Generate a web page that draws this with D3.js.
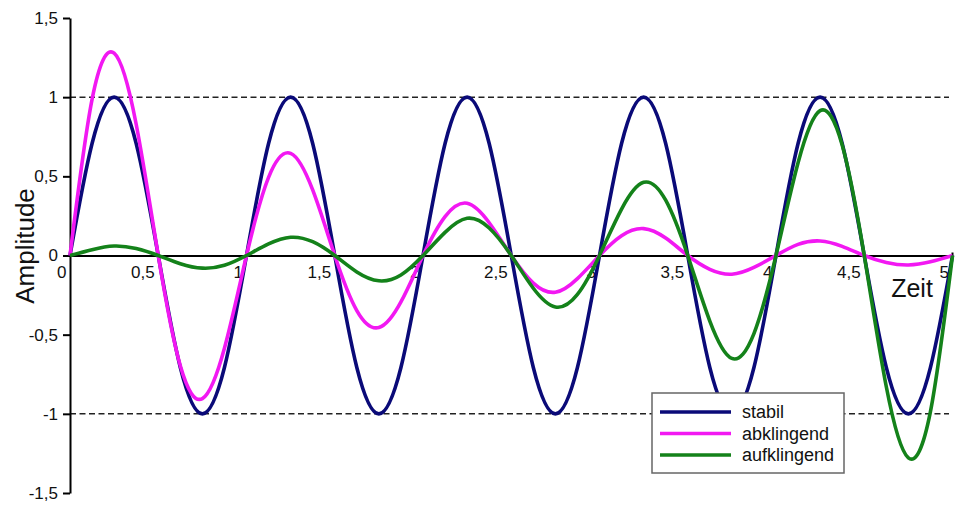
<!DOCTYPE html>
<html>
<head>
<meta charset="utf-8">
<script src="https://cdn.jsdelivr.net/npm/d3@7"></script>
<style>
  html, body { margin: 0; padding: 0; background: #fff; }
  svg { display: block; font-family: "Liberation Sans", Arial, sans-serif; }
</style>
</head>
<body>
<svg id="chart" width="960" height="512"></svg>
<script>
// Time samples (every 1/8 unit)
const zeit = [0,0.125,0.25,0.375,0.5,0.625,0.75,0.875,
  1,1.125,1.25,1.375,1.5,1.625,1.75,1.875,
  2,2.125,2.25,2.375,2.5,2.625,2.75,2.875,
  3,3.125,3.25,3.375,3.5,3.625,3.75,3.875,
  4,4.125,4.25,4.375,4.5,4.625,4.75,4.875,5];

const stabil = [0,0.707,1,0.707,0,-0.707,-1,-0.707,
  0,0.707,1,0.707,0,-0.707,-1,-0.707,
  0,0.707,1,0.707,0,-0.707,-1,-0.707,
  0,0.707,1,0.707,0,-0.707,-1,-0.707,
  0,0.707,1,0.707,0,-0.707,-1,-0.707,0];

const abklingend = [0,0.986,1.278,0.829,0,-0.697,-0.904,-0.586,
  0,0.493,0.645,0.414,0,-0.348,-0.455,-0.293,
  0,0.246,0.330,0.207,0,-0.174,-0.232,-0.146,
  0,0.125,0.170,0.110,0,-0.087,-0.118,-0.075,
  0,0.070,0.092,0.058,0,-0.044,-0.060,-0.040,0];

const aufklingend = [0,0.037,0.060,0.044,0,-0.052,-0.080,-0.062,
  0,0.073,0.115,0.087,0,-0.104,-0.160,-0.123,
  0,0.146,0.235,0.174,0,-0.207,-0.325,-0.246,
  0,0.293,0.462,0.349,0,-0.414,-0.650,-0.493,
  0,0.586,0.915,0.698,0,-0.829,-1.278,-0.986,0];

const seriesNames = ["stabil","abklingend","aufklingend"];
const seriesColors = ["#0a0a78","#f218f2","#14821a"];

const xTicks = [0,0.5,1,1.5,2,2.5,3,3.5,4,4.5,5];
const xTickLabels = ["0","0,5","1","1,5","2","2,5","3","3,5","4","4,5","5"];
const yTicks = [-1.5,-1,-0.5,0,0.5,1,1.5];
const yTickLabels = ["-1,5","-1","-0,5","0","0,5","1","1,5"];
const refLines = [1,-1];

const svg = d3.select("#chart");
const x = d3.scaleLinear().domain([0,5]).range([70,952.5]);
const y = d3.scaleLinear().domain([-1.5,1.5]).range([493,18]);

// dashed reference lines
svg.selectAll("line.ref").data(refLines).join("line")
  .attr("class","ref")
  .attr("x1",x(0)).attr("x2",949)
  .attr("y1",d=>y(d)).attr("y2",d=>y(d))
  .attr("stroke","#222").attr("stroke-width",1.5)
  .attr("stroke-dasharray","6,3.5");

// y axis
const yAxis = d3.axisLeft(y).tickValues(yTicks)
  .tickFormat((d,i)=>yTickLabels[i]).tickSize(7).tickPadding(5).tickSizeOuter(0);
const gy = svg.append("g").attr("transform",`translate(${x(0)},0)`).call(yAxis);
gy.select(".domain").attr("stroke","#000").attr("stroke-width",2);
gy.selectAll(".tick line").attr("stroke","#000").attr("stroke-width",2);
gy.selectAll(".tick text").attr("font-size",17).attr("fill","#111")
  .attr("font-family","Liberation Sans, Arial, sans-serif");

// x axis at y=0
const xAxis = d3.axisBottom(x).tickValues(xTicks)
  .tickFormat((d,i)=>xTickLabels[i]).tickSize(0).tickSizeOuter(0);
const gx = svg.append("g").attr("transform",`translate(0,${y(0)})`).call(xAxis);
gx.select(".domain").attr("stroke","#000").attr("stroke-width",2.2);
gx.selectAll(".tick text").attr("font-size",17).attr("fill","#111")
  .attr("font-family","Liberation Sans, Arial, sans-serif")
  .attr("text-anchor","end").attr("dx",-4).attr("dy",0).attr("y",22);
// small end tick at x=5
gx.append("line").attr("x1",x(5)).attr("x2",x(5)).attr("y1",-3).attr("y2",3)
  .attr("stroke","#000").attr("stroke-width",2);

// axis titles
svg.append("text").attr("transform",`translate(34,246) rotate(-90)`)
  .attr("text-anchor","middle").attr("font-size",26).attr("fill","#111")
  .text("Amplitude");
svg.append("text").attr("x",912).attr("y",297)
  .attr("text-anchor","middle").attr("font-size",25).attr("fill","#111")
  .text("Zeit");

// curves
const allSeries = [stabil, abklingend, aufklingend];
const line = d3.line().x((d,i)=>x(zeit[i])).y(d=>y(d)).curve(d3.curveNatural);
svg.selectAll("path.series").data(allSeries).join("path")
  .attr("class","series")
  .attr("d",d=>line(d))
  .attr("fill","none")
  .attr("stroke",(d,i)=>seriesColors[i])
  .attr("stroke-width",3.6)
  .attr("stroke-linejoin","round");

// legend
const lg = svg.append("g").attr("transform","translate(652,393)");
lg.append("rect").attr("width",192).attr("height",80)
  .attr("fill","#fff").attr("stroke","#666").attr("stroke-width",1.5);
const items = lg.selectAll("g.item").data(seriesNames).join("g")
  .attr("class","item")
  .attr("transform",(d,i)=>`translate(0,${19 + i*21.5})`);
items.append("line").attr("x1",8).attr("x2",79).attr("y1",0).attr("y2",0)
  .attr("stroke",(d,i)=>seriesColors[i]).attr("stroke-width",3.6);
items.append("text").attr("x",90).attr("y",6).attr("font-size",18)
  .attr("fill","#111").text(d=>d);
</script>
</body>
</html>
